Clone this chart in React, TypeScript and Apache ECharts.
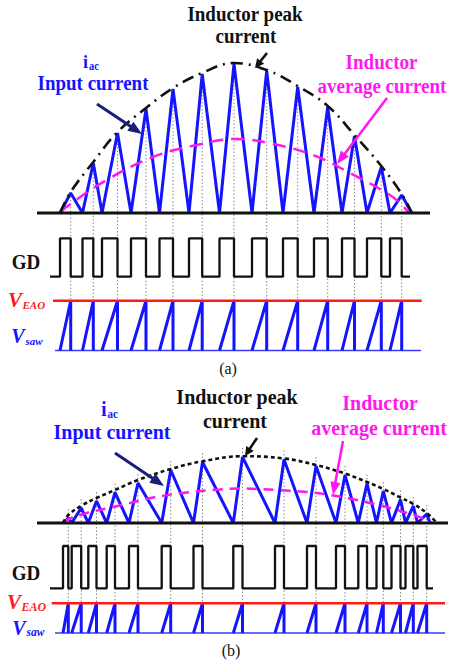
import React, { useEffect, useRef } from "react";
import * as echarts from "echarts";

const W = 449;
const H = 664;

// ---------- Panel (a): switching instants (time units), peak currents ----------
const onA = [60, 82.5, 102, 131, 159.5, 189, 219.5, 252, 283, 314, 342, 367, 390];
const offA = [70.7, 93.3, 117.5, 146, 173, 202.2, 234, 266.7, 297.7, 327.7, 354.5, 381.3, 401.7];
const peakA = [20, 50, 80, 104, 124, 139, 149, 142, 126, 106, 77, 46, 18];
const endA = 411.7;
const envA: number[][] = [
  [60, 0], [70.7, 21], [93.3, 51], [117.5, 81], [146, 105], [173, 125], [202, 140],
  [234, 150], [266.7, 143], [297.7, 127], [327.7, 107], [354.5, 78], [381.3, 47], [401.7, 19], [412, 0],
];
const avgA: number[][] = [
  [61, 0], [65, 5], [106.7, 33], [153, 56], [196.7, 68], [236, 74], [273, 69],
  [313, 58], [350, 40], [386.7, 20], [400, 10], [409, 0],
];
const gdSpanA = [50, 410];
const eaoSpanA = [53, 421.7];
const sawBaseSpanA = [55, 421];
const axisSpanA = [37, 430];

// ---------- Panel (b) ----------
const onB = [63, 71.7, 88.3, 106.7, 129, 161.7, 193.5, 233.3, 275, 307, 336, 358.3, 376.5, 391.5, 405.5, 417.5];
const offB = [68.3, 81.2, 96.5, 115, 138, 170.7, 202.5, 242.5, 284, 316, 345, 367, 383.3, 400.5, 413.3, 426.7];
const peakB = [5, 15, 22, 30.5, 40, 53, 61, 66, 63.5, 57, 48, 39.5, 32, 23.5, 17, 9];
const endB = 430;
const envB: number[][] = [
  [63, 0], [68.3, 8], [81.7, 17.5], [96.5, 25], [115, 33], [138, 43], [170.7, 54], [202.5, 61.7],
  [242.5, 66.8], [284, 64.5], [316, 58], [345, 49.5], [367, 41], [383.3, 34], [400.5, 25.5],
  [413.3, 19], [426.7, 10], [437, 0],
];
const avgB: number[][] = [
  [65, 0], [66.7, 3], [86.7, 10], [106.7, 14.5], [128.3, 19.5], [153.3, 25.5], [186.7, 30.5],
  [220, 33.5], [236.7, 34.5], [276.7, 33], [306.7, 31], [330, 28], [356.7, 23], [386.7, 16],
  [410, 9], [423.3, 4.5], [432, 0],
];
const gdSpanB = [50, 433];
const eaoSpanB = [51.7, 445];
const sawBaseSpanB = [55, 445];
const axisSpanB = [37, 448];

// ---------- layout (px) ----------
const LA = { curTop: 40, base: 213, gdHi: 238.3, gdLo: 276.7, eao: 300.7, sawBot: 350.5 };
const LB = { curTop: 440, base: 523, gdHi: 546, gdLo: 588.3, eao: 603.3, sawBot: 633 };

const BLUE = "#1414ff";
const PINK = "#ff17f0";
const RED = "#ff1a1a";
const NAVY = "#1c1f78";
const SERIF = '"Liberation Serif", "Times New Roman", serif';

function currentData(on: number[], off: number[], pk: number[], end: number) {
  const d: number[][] = [];
  on.forEach((t, i) => {
    d.push([t, 0]);
    d.push([off[i], pk[i]]);
  });
  d.push([end, 0]);
  return d;
}
function gdData(on: number[], off: number[], span: number[]) {
  const d: number[][] = [[span[0], 0]];
  on.forEach((t, i) => {
    d.push([t, 0], [t, 1], [off[i], 1], [off[i], 0]);
  });
  d.push([span[1], 0]);
  return d;
}
function sawData(on: number[], off: number[]) {
  return on.map((t, i) => ({ coords: [[t, 0], [off[i], 1], [off[i], 0]] }));
}
function guideData(off: number[], pk: number[], over: number, yMin: number) {
  return off.map((t, i) => ({ coords: [[t, pk[i] + over], [t, yMin]] }));
}

function arrow(x1: number, y1: number, x2: number, y2: number, color: string, lw: number, hl: number, hw: number) {
  const dx = x2 - x1, dy = y2 - y1;
  const L = Math.hypot(dx, dy);
  const ux = dx / L, uy = dy / L;
  const bx = x2 - ux * hl, by = y2 - uy * hl;
  const px = -uy, py = ux;
  return [
    { type: "line", shape: { x1, y1, x2: bx + ux, y2: by + uy }, style: { stroke: color, lineWidth: lw }, z: 100 },
    {
      type: "polygon",
      shape: { points: [[x2, y2], [bx + (px * hw) / 2, by + (py * hw) / 2], [bx - (px * hw) / 2, by - (py * hw) / 2]] },
      style: { fill: color },
      z: 100,
    },
  ];
}

function txt(text: string, x: number, y: number, size: number, color: string, opts: any = {}) {
  return {
    type: "text",
    z: 100,
    x,
    y,
    scaleY: opts.sy ?? 1.1,
    style: {
      text,
      x: 0,
      y: 0,
      fill: color,
      fontSize: size,
      fontFamily: SERIF,
      fontWeight: opts.weight ?? "bold",
      fontStyle: opts.italic ? "italic" : "normal",
      align: opts.align ?? "center",
      textAlign: opts.align ?? "center",
      verticalAlign: "middle",
      textVerticalAlign: "middle",
    },
  };
}

export default function App() {
  const ref = useRef<HTMLDivElement>(null);
  useEffect(() => {
    document.body.style.margin = "0";
    if (!ref.current) return;
    const chart = echarts.init(ref.current, undefined, { renderer: "svg" });

    const mkGrid = (top: number, bottom: number) => ({ left: 0, width: W, top, height: bottom - top });
    const grids = [
      mkGrid(LA.curTop, LA.base), // 0 current a
      mkGrid(LA.gdHi, LA.gdLo), // 1 gd a
      mkGrid(LA.eao, LA.sawBot), // 2 saw a
      mkGrid(LA.curTop, LA.sawBot), // 3 guides a
      mkGrid(LB.curTop, LB.base), // 4 current b
      mkGrid(LB.gdHi, LB.gdLo), // 5 gd b
      mkGrid(LB.eao, LB.sawBot), // 6 saw b
      mkGrid(LB.curTop, LB.sawBot), // 7 guides b
    ];
    const yRanges = [
      [0, LA.base - LA.curTop],
      [0, 1],
      [0, 1],
      [-(LA.sawBot - LA.base), LA.base - LA.curTop],
      [0, LB.base - LB.curTop],
      [0, 1],
      [0, 1],
      [-(LB.sawBot - LB.base), LB.base - LB.curTop],
    ];
    const xAxis = grids.map((_, i) => ({ type: "value", gridIndex: i, min: 0, max: W, show: false }));
    const yAxis = yRanges.map((r, i) => ({ type: "value", gridIndex: i, min: r[0], max: r[1], show: false }));

    const line = (idx: number, data: any[], style: any, extra: any = {}) => ({
      type: "line",
      xAxisIndex: idx,
      yAxisIndex: idx,
      data,
      showSymbol: false,
      symbol: "none",
      clip: false,
      lineStyle: style,
      silent: true,
      ...extra,
    });
    const lines = (idx: number, data: any[], style: any, z = 2) => ({
      type: "lines",
      coordinateSystem: "cartesian2d",
      xAxisIndex: idx,
      yAxisIndex: idx,
      polyline: true,
      data,
      clip: false,
      lineStyle: style,
      silent: true,
      z,
    });

    const guideStyle = { color: "#8a8a8a", width: 1, type: [1.5, 2], opacity: 1 };

    const series: any[] = [
      // ---- (a)
      lines(3, guideData(offA, peakA, 0, -(LA.sawBot - LA.base)), guideStyle, 1),
      line(0, currentData(onA, offA, peakA, endA), { color: BLUE, width: 3 }, { z: 3 }),
      line(0, avgA, { color: PINK, width: 2.5, type: [13, 8] }, { smooth: 0.4, z: 4 }),
      line(0, envA, { color: "#111", width: 2.6, type: [12, 6, 2, 6] }, { smooth: 0.4, z: 4 }),
      line(0, [[axisSpanA[0], 0], [axisSpanA[1], 0]], { color: "#111", width: 3 }, { z: 5 }),
      line(1, gdData(onA, offA, gdSpanA), { color: "#111", width: 2.3 }, { z: 3 }),
      line(2, [[sawBaseSpanA[0], 0], [sawBaseSpanA[1], 0]], { color: "#3a3aff", width: 1.5 }, { z: 3 }),
      lines(2, sawData(onA, offA), { color: BLUE, width: 3, opacity: 1 }, 4),
      line(2, [[eaoSpanA[0], 1], [eaoSpanA[1], 1]], { color: RED, width: 2.6 }, { z: 5 }),
      // ---- (b)
      lines(7, guideData(offB, peakB, 9, -(LB.sawBot - LB.base)), guideStyle, 1),
      line(4, currentData(onB, offB, peakB, endB), { color: BLUE, width: 3 }, { z: 3 }),
      line(4, avgB, { color: PINK, width: 2.5, type: [10, 7] }, { smooth: 0.4, z: 4 }),
      line(4, envB, { color: "#111", width: 2.6, type: [4, 3] }, { smooth: 0.4, z: 4 }),
      line(4, [[axisSpanB[0], 0], [axisSpanB[1], 0]], { color: "#111", width: 3 }, { z: 5 }),
      line(5, gdData(onB, offB, gdSpanB), { color: "#111", width: 2.3 }, { z: 3 }),
      line(6, [[sawBaseSpanB[0], 0], [sawBaseSpanB[1], 0]], { color: "#3a3aff", width: 1.5 }, { z: 3 }),
      lines(6, sawData(onB, offB), { color: BLUE, width: 3, opacity: 1 }, 4),
      line(6, [[eaoSpanB[0], 1], [eaoSpanB[1], 1]], { color: RED, width: 2.6 }, { z: 5 }),
    ];

    const graphic: any[] = [
      // (a) texts
      txt("Inductor peak", 245, 14, 19, "#111"),
      txt("current", 246, 36, 19, "#111"),
      txt("i", 85.5, 61, 18, BLUE),
      txt("ac", 89, 66, 10.5, BLUE, { align: "left" }),
      txt("Input current", 93, 83, 19, BLUE),
      txt("Inductor", 381.5, 62, 19, PINK),
      txt("average current", 382, 86, 19, PINK),
      txt("GD", 26, 262, 19, "#111", { sy: 1.05 }),
      txt("V", 15, 300, 21, RED, { italic: true, sy: 1 }),
      txt("EAO", 22.5, 304.5, 11, RED, { italic: true, align: "left", sy: 1 }),
      txt("V", 18, 336, 20, BLUE, { italic: true, sy: 1 }),
      txt("saw", 25.5, 340.5, 11, BLUE, { italic: true, align: "left", sy: 1 }),
      txt("(a)", 228, 368, 16, "#111", { weight: "normal", sy: 1 }),
      // (b) texts
      txt("Inductor peak", 237, 397, 20, "#111"),
      txt("current", 235, 421, 20, "#111"),
      txt("i", 104, 409, 19, BLUE),
      txt("ac", 107.5, 414, 11, BLUE, { align: "left" }),
      txt("Input current", 112, 432, 20, BLUE),
      txt("Inductor", 380, 403, 20, PINK),
      txt("average current", 379, 428, 20, PINK),
      txt("GD", 26, 573, 19, "#111", { sy: 1.05 }),
      txt("V", 14, 602, 21, RED, { italic: true, sy: 1 }),
      txt("EAO", 21.5, 606.5, 12, RED, { italic: true, align: "left", sy: 1 }),
      txt("V", 19, 627.5, 20, BLUE, { italic: true, sy: 1 }),
      txt("saw", 26.5, 632, 11.5, BLUE, { italic: true, align: "left", sy: 1 }),
      txt("(b)", 231, 650, 16, "#111", { weight: "normal", sy: 1 }),
      // arrows
      ...arrow(267, 53, 255, 68, "#111", 2.6, 9, 9),
      ...arrow(97, 104, 142, 134, NAVY, 3, 14, 11),
      ...arrow(387, 98, 337, 164, PINK, 2.5, 13, 10),
      ...arrow(257, 438, 245, 456, "#111", 2.6, 9, 9),
      ...arrow(115, 453, 164, 486, NAVY, 3, 14, 11),
      ...arrow(343, 441, 333, 495, PINK, 2.5, 13, 10),
    ];

    chart.setOption({
      animation: false,
      backgroundColor: "#ffffff",
      grid: grids,
      xAxis,
      yAxis,
      series,
      graphic,
    });
    return () => chart.dispose();
  }, []);

  return <div ref={ref} style={{ width: W, height: H, position: "absolute", left: 0, top: 0 }} />;
}
